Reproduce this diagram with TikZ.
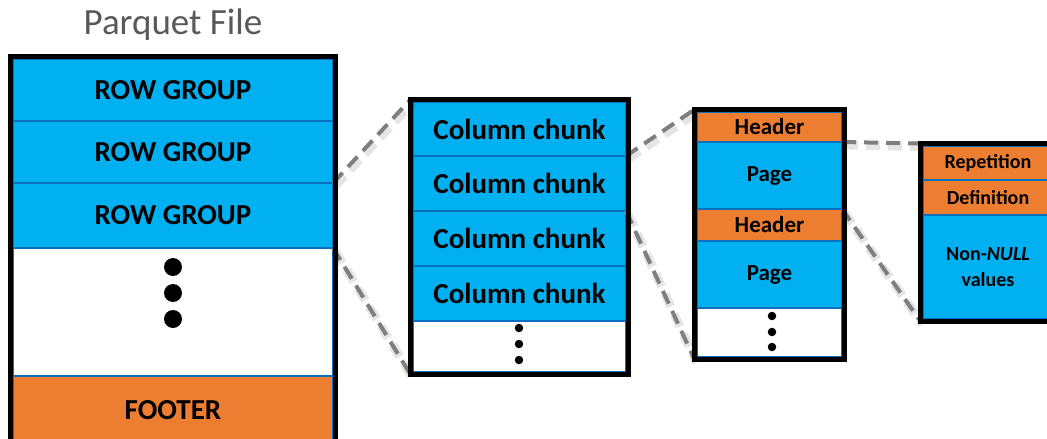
\documentclass[tikz,border=0pt]{standalone}
\usepackage{fontspec}
\setmainfont{Carlito}
\definecolor{cellblue}{HTML}{00B0F0}
\definecolor{cellorange}{HTML}{ED7D31}
\definecolor{sepblue}{HTML}{0B6FBF}
\definecolor{zoomgray}{HTML}{7F7F7F}
\definecolor{titlegray}{HTML}{595959}
\tikzset{
  cell/.style={draw=sepblue, line width=1.8pt, inner sep=0pt, outer sep=0pt, anchor=north west,
    text=black, font=\bfseries\fontsize{#1}{#1}\selectfont, align=center},
  bluecell/.style={cell=#1, fill=cellblue},
  orangecell/.style={cell=#1, fill=cellorange},
  blankcell/.style={cell=10, fill=white},
  frame/.style={draw=none, inner sep=0pt, outer sep=0pt, anchor=north west},
  frameline/.style={draw=black, line width=5pt},
  bigdot/.style={circle, fill=black, inner sep=0pt, minimum size=18pt},
  smalldot/.style={circle, fill=black, inner sep=0pt, minimum size=8.5pt},
  zoomline/.style={draw=zoomgray, line width=4pt, dash pattern=on 14pt off 8pt,
    preaction={draw=black, draw opacity=0.10, line width=9pt, dash pattern=on 14pt off 8pt,
      transform canvas={shift={(2pt,-3pt)}}}},
}
\begin{document}
\begin{tikzpicture}[x=1pt, y=-1pt]
\useasboundingbox (0,0) rectangle (1047,439);
\clip (0,0) rectangle (1047,439);

% title
\node[text=titlegray, font=\fontsize{37}{40}\selectfont] (title) at (173,25) {Parquet File};

% --- file: row groups and footer
\node[bluecell=29, minimum width=320pt, minimum height=62pt] (rg1) at (13,59) {ROW GROUP};
\node[bluecell=29, minimum width=320pt, minimum height=62pt] (rg2) at (13,121) {ROW GROUP};
\node[bluecell=29, minimum width=320pt, minimum height=65pt] (rg3) at (13,183) {ROW GROUP};
\node[blankcell, minimum width=320pt, minimum height=128pt] (rgmore) at (13,248) {};
\node[orangecell=29, minimum width=320pt, minimum height=68pt] (foot) at (13,376) {FOOTER};
\node[bigdot] (fd1) at (173,267) {};
\node[bigdot] (fd2) at (173,293) {};
\node[bigdot] (fd3) at (173,319) {};

% --- row group: column chunks
\node[bluecell=29, minimum width=213pt, minimum height=54pt] (cc1) at (413,102) {Column chunk};
\node[bluecell=29, minimum width=213pt, minimum height=55pt] (cc2) at (413,156) {Column chunk};
\node[bluecell=29, minimum width=213pt, minimum height=55pt] (cc3) at (413,211) {Column chunk};
\node[bluecell=29, minimum width=213pt, minimum height=55pt] (cc4) at (413,266) {Column chunk};
\node[blankcell, minimum width=213pt, minimum height=51pt] (ccmore) at (413,321) {};
\node[smalldot] (cd1) at (519,328) {};
\node[smalldot] (cd2) at (519,344) {};
\node[smalldot] (cd3) at (519,360) {};

% --- column chunk: headers and pages
\node[orangecell=23, minimum width=145pt, minimum height=30pt] (h1) at (697,112) {Header};
\node[bluecell=23, minimum width=145pt, minimum height=67pt] (p1) at (697,142) {Page};
\node[orangecell=23, minimum width=145pt, minimum height=32pt] (h2) at (697,209) {Header};
\node[bluecell=23, minimum width=145pt, minimum height=67pt] (p2) at (697,241) {Page};
\node[blankcell, minimum width=145pt, minimum height=49pt] (pmore) at (697,308) {};
\node[smalldot] (pd1) at (772,316) {};
\node[smalldot] (pd2) at (772,332) {};
\node[smalldot] (pd3) at (772,347) {};

% --- page: levels and values
\node[orangecell=20, minimum width=130pt, minimum height=34pt] (rep) at (923,146) {Repetition};
\node[orangecell=20, minimum width=130pt, minimum height=35pt] (def) at (923,180) {Definition};
\node[bluecell=20, minimum width=130pt, minimum height=104pt, font=\bfseries\fontsize{20}{26}\selectfont] (vals) at (923,215) {Non-\textit{NULL}\\values};

% outer frames (named, drawn after the connectors)
\node[frame, minimum width=325pt, minimum height=388pt] (file) at (10.5,56.5) {};
\node[frame, minimum width=218pt, minimum height=275pt] (group) at (410.5,99.5) {};
\node[frame, minimum width=150pt, minimum height=250pt] (chunk) at (694.5,109.5) {};
\node[frame, minimum width=135pt, minimum height=178pt] (page) at (920.5,143.5) {};

% --- zoom connectors
\draw[zoomline] (rg3.north east) -- (group.north west);
\draw[zoomline] (rg3.south east) -- (group.south west);
\draw[zoomline] (cc1.south east) -- (chunk.north west);
\draw[zoomline] (cc2.south east) -- (chunk.south west);
\draw[zoomline] (h1.south east) -- (page.north west);
\draw[zoomline] (p1.south east) -- (page.south west);

\draw[frameline] (file.north west) rectangle (file.south east);
\draw[frameline] (group.north west) rectangle (group.south east);
\draw[frameline] (chunk.north west) rectangle (chunk.south east);
\draw[frameline] (page.north west) rectangle (page.south east);
\end{tikzpicture}
\end{document}
